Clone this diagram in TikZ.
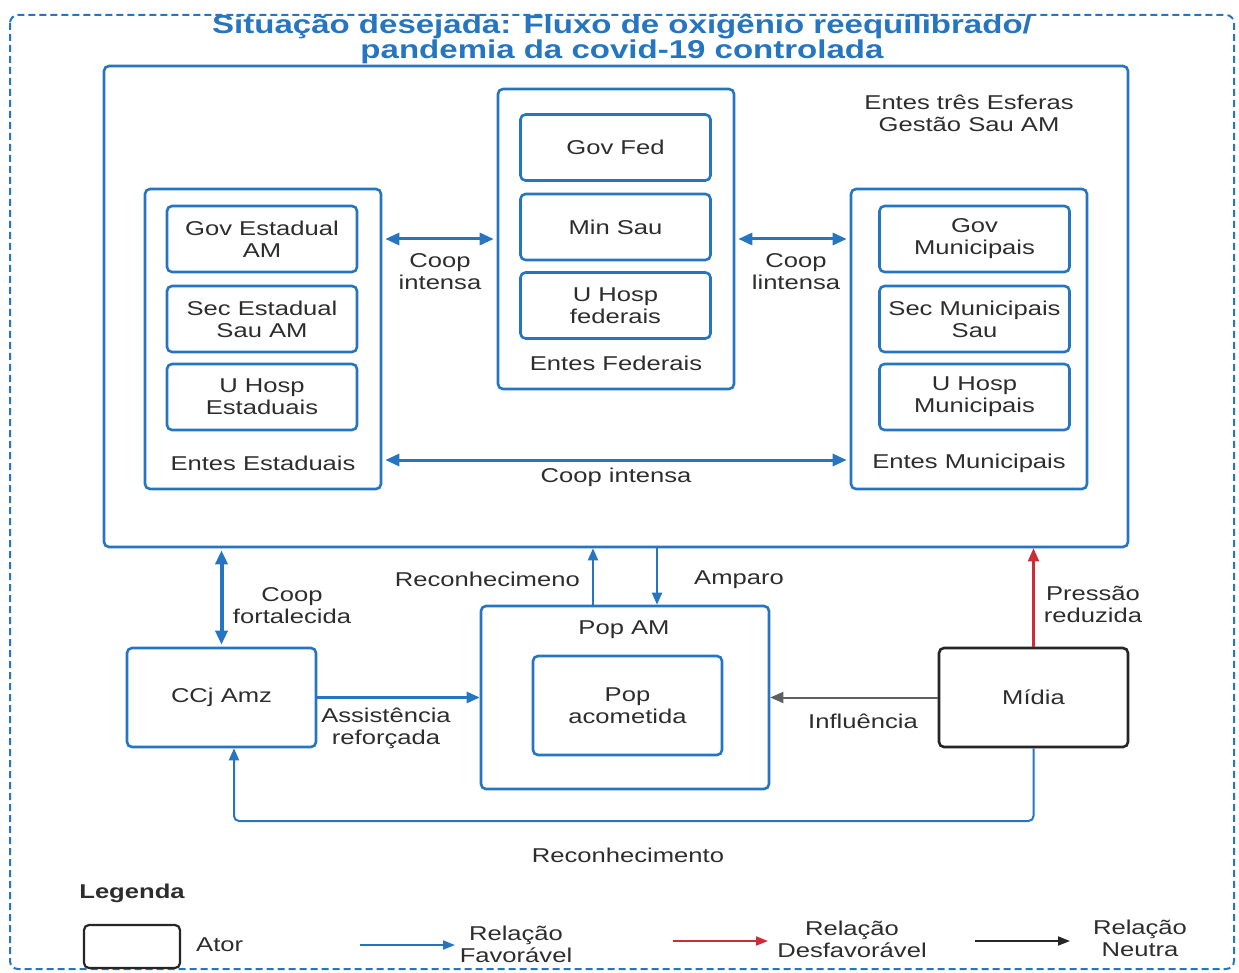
\documentclass[tikz,border=0pt]{standalone}
\usepackage{fontspec}
\setmainfont{Liberation Sans}[FakeStretch=1.28]
\usetikzlibrary{arrows.meta}
\definecolor{bl}{RGB}{38,117,192}
\definecolor{tx}{RGB}{45,45,45}
\definecolor{rd}{RGB}{205,45,55}
\definecolor{gr}{RGB}{95,95,95}
\begin{document}
\begin{tikzpicture}[x=1pt,y=-1pt,
  every node/.style={font=\fontsize{20}{22}\selectfont, text=tx, align=center, inner sep=0pt},
  cont/.style={draw=bl, line width=2.6pt, rounded corners=5pt},
  box/.style={draw=bl, line width=2.6pt, rounded corners=5pt, minimum width=190pt, minimum height=66pt},
  actor/.style={draw=bl, line width=2.6pt, rounded corners=5pt, minimum width=189pt, minimum height=99pt},
  dbl/.style={bl, line width=3pt, {Triangle[length=14pt,width=12pt]}-{Triangle[length=14pt,width=12pt]}, shorten <=3pt, shorten >=3pt},
  fav/.style={bl, line width=2.6pt, -{Triangle[length=13pt,width=11pt]}},
  favthin/.style={bl, line width=2pt, -{Triangle[length=12pt,width=10pt]}, rounded corners=5pt},
  unfav/.style={rd, line width=2.2pt, -{Triangle[length=13pt,width=11pt]}},
  neut/.style={gr, line width=2pt, -{Triangle[length=13pt,width=11pt]}}
]
\useasboundingbox (0,0) rectangle (1239,973);
% outer dashed frame
\draw[bl, line width=2pt, dash pattern=on 7pt off 4pt, rounded corners=8pt] (10,15) rectangle (1234,969);
\node[font=\fontsize{25.8}{23}\selectfont\bfseries, text=bl] (title) at (622,39) {Situação desejada: Fluxo de oxigênio reequilibrado/\\pandemia da covid-19 controlada};

% big container
\node[cont, minimum width=1024pt, minimum height=481pt] (big) at (616,306.5) {};
\node (bigl) at (969,113) {Entes três Esferas\\Gestão Sau AM};

% Estaduais
\node[cont, minimum width=236pt, minimum height=300pt] (est) at (263,339) {};
\node[box] (gse) at (262,239) {Gov Estadual\\AM};
\node[box] (sse) at (262,319) {Sec Estadual\\Sau AM};
\node[box] (uhe) at (262,397) {U Hosp\\Estaduais};
\node (estl) at (263,463) {Entes Estaduais};

% Federais
\node[cont, minimum width=236pt, minimum height=300pt] (fed) at (616,239) {};
\node[box] (gf) at (615.5,147.5) {Gov Fed};
\node[box] (ms) at (615.5,227) {Min Sau};
\node[box] (uhf) at (615.5,305.5) {U Hosp\\federais};
\node (fedl) at (616,363) {Entes Federais};

% Municipais
\node[cont, minimum width=236pt, minimum height=300pt] (mun) at (969,339) {};
\node[box] (gm) at (974.5,239) {Gov\\Municipais};
\node[box] (smu) at (974.5,319) {Sec Municipais\\Sau};
\node[box] (uhm) at (974.5,397) {U Hosp\\Municipais};
\node (munl) at (969,463) {Entes Municipais};

% cooperation arrows
\draw[dbl] (est.east |- gse) -- (fed.west |- gse);
\node at (440,272) {Coop\\intensa};
\draw[dbl] (fed.east |- gm) -- (mun.west |- gm);
\node at (796,272) {Coop\\lintensa};
\draw[dbl] (est.east |- 0,460) -- (mun.west |- 0,460);
\node at (616,477) {Coop intensa};

% lower actors
\node[actor] (ccj) at (221.5,697.5) {CCj Amz};
\node[cont, minimum width=288pt, minimum height=183pt] (pop) at (625,697.5) {};
\node (popl) at (624,630) {Pop AM};
\node[actor] (popa) at (627.5,705.5) {Pop\\acometida};
\node[actor, draw=black!85] (mid) at (1033.5,697.5) {Mídia};

% relations
\draw[dbl, line width=4pt, shorten <=2pt, shorten >=2pt] (ccj.north) -- (ccj.north |- big.south);
\node at (292,606) {Coop\\fortalecida};

\draw[fav] (ccj.east) -- (pop.west);
\node at (386,728) {Assistência\\reforçada};

\draw[favthin] ([xshift=-32pt]pop.north) -- ([xshift=-32pt]pop.north |- big.south);
\node[anchor=east] at (580,579) {Reconhecimeno};
\draw[favthin] ([xshift=32pt]pop.north |- big.south) -- ([xshift=32pt]pop.north);
\node[anchor=west] at (694,580) {Amparo};

\draw[unfav] (mid.north) -- (mid.north |- big.south);
\node at (1093,604) {Pressão\\reduzida};

\draw[neut] (mid.west) -- (pop.east);
\node at (863,721) {Influência};

\draw[favthin] (mid.south) -- (mid.south |- 0,821) -- ([xshift=12.5pt]ccj.south |- 0,821) -- ([xshift=12.5pt]ccj.south);
\node at (628,855) {Reconhecimento};

% legend
\node[font=\fontsize{20}{22}\selectfont\bfseries] (leg) at (132,893) {Legenda};
\node[draw=black!85, line width=2.2pt, rounded corners=5pt, minimum width=96pt, minimum height=43pt] (lator) at (132,946.5) {};
\node[anchor=west] (latort) at (196,945) {Ator};
\coordinate (fa) at (360,945);
\coordinate (fb) at (455,945);
\draw[bl, line width=1.8pt, -{Triangle[length=12pt,width=9pt]}] (fa) -- (fb);
\node (favt) at (516,944) {Relação\\Favorável};
\coordinate (ra) at (673,941);
\coordinate (rb) at (768,941);
\draw[rd, line width=1.8pt, -{Triangle[length=12pt,width=9pt]}] (ra) -- (rb);
\node (dest) at (852,939) {Relação\\Desfavorável};
\coordinate (na) at (975,941);
\coordinate (nb) at (1070,941);
\draw[black!85, line width=1.8pt, -{Triangle[length=12pt,width=9pt]}] (na) -- (nb);
\node (neut) at (1140,938) {Relação\\Neutra};
\end{tikzpicture}
\end{document}
